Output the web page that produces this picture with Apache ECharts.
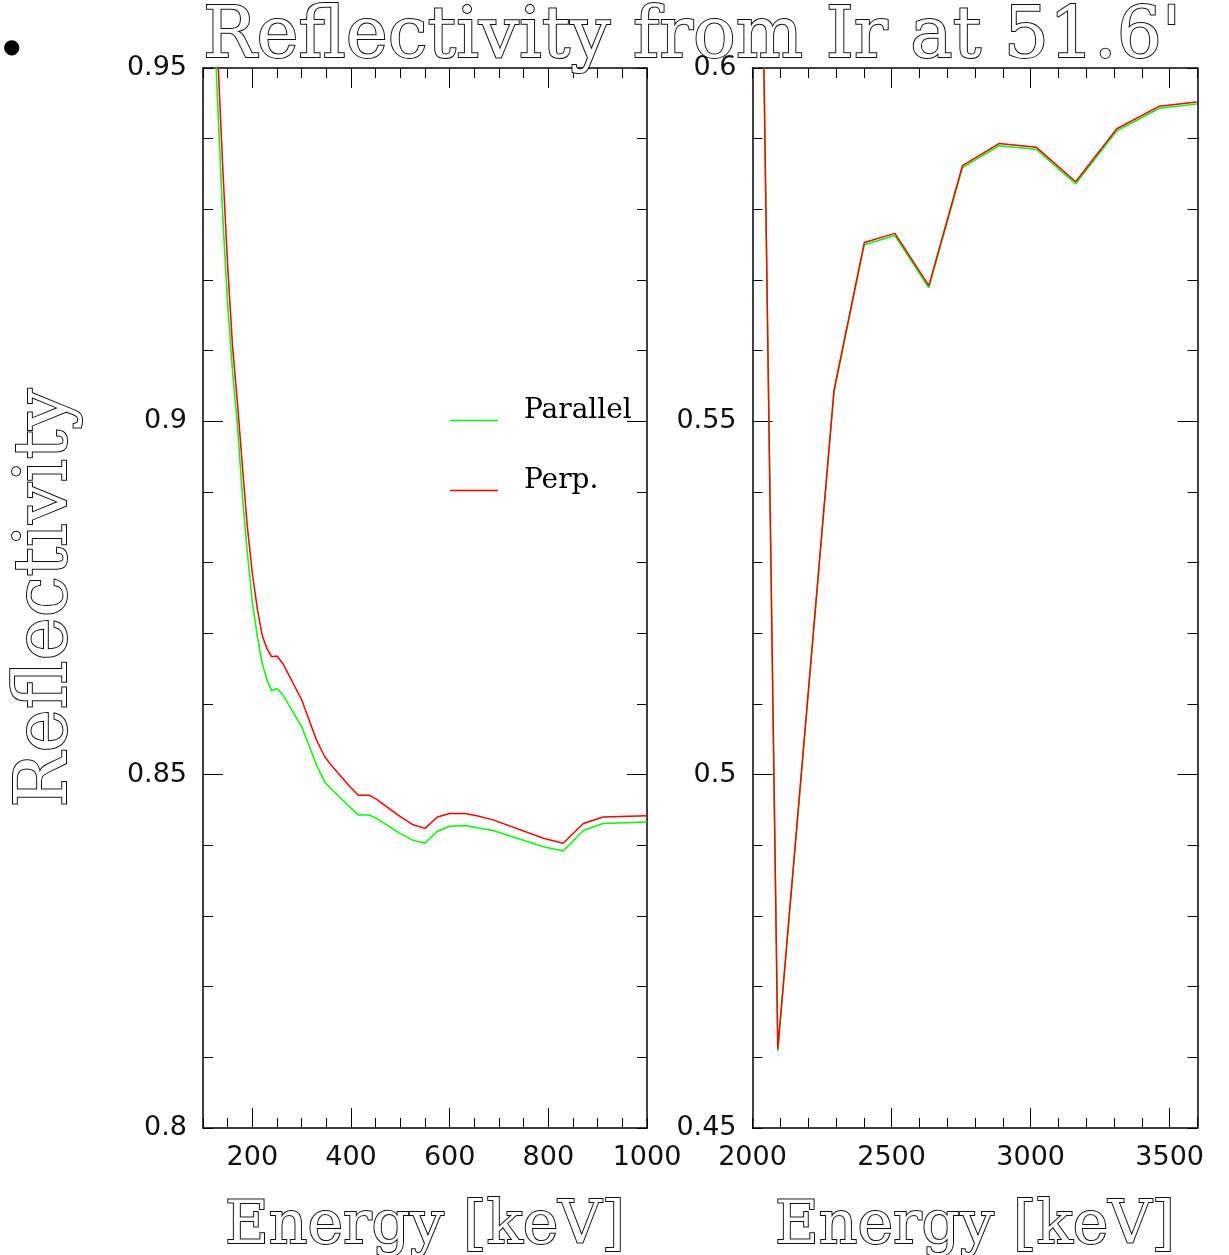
<!DOCTYPE html>
<html>
<head>
<meta charset="utf-8">
<script src="https://cdn.jsdelivr.net/npm/echarts@6.0.0/dist/echarts.min.js"></script>
<style>
html,body{margin:0;padding:0;background:#fff;overflow:hidden;}
#chart{width:1229px;height:1255px;}
</style>
</head>
<body>
<div id="chart"></div>
<script>
// ---------- data ----------
const titleText = "Reflectivity from Ir at 51.6'";
const seriesNames = ['Parallel', 'Perp.'];

// Left panel: 100 - 1000 keV
const leftEnergy   = [110, 120, 130, 140, 150, 160, 170, 180, 190, 200, 210, 220, 230, 239, 250, 262, 300, 330, 347, 364, 398, 415, 437, 452, 499, 526, 550, 575, 600, 631, 655, 688, 790, 830, 871, 911, 1000];
const leftParallel = [0.980, 0.961, 0.9445, 0.929, 0.9165, 0.907, 0.8993, 0.8893, 0.8813, 0.8745, 0.8696, 0.8658, 0.8633, 0.8619, 0.8622, 0.8613, 0.8568, 0.8514, 0.8489, 0.8477, 0.8454, 0.8443, 0.8443, 0.8438, 0.8417, 0.8407, 0.8403, 0.8420, 0.8427, 0.8428, 0.8425, 0.8421, 0.8398, 0.8392, 0.8421, 0.8431, 0.8433];
const leftPerp     = [0.990, 0.968, 0.9515, 0.936, 0.922, 0.9105, 0.9025, 0.8935, 0.8850, 0.8785, 0.8735, 0.8697, 0.8678, 0.8667, 0.8668, 0.8657, 0.8606, 0.8549, 0.8525, 0.8510, 0.8483, 0.8471, 0.8471, 0.8465, 0.8441, 0.8429, 0.8424, 0.8440, 0.8445, 0.8445, 0.8442, 0.8436, 0.8410, 0.8403, 0.8431, 0.8440, 0.8442];

// Right panel: 2000 - 3600 keV
const rightEnergy   = [2000, 2091, 2293, 2402, 2512, 2634, 2755, 2886, 3020, 3162, 3310, 3463, 3597];
const rightParallel = [0.714, 0.4609, 0.5541, 0.5750, 0.5763, 0.5689, 0.5859, 0.5890, 0.5885, 0.5836, 0.5911, 0.5943, 0.5949];
const rightPerp     = [0.714, 0.4612, 0.5544, 0.5753, 0.5766, 0.5692, 0.5862, 0.5893, 0.5888, 0.5839, 0.5914, 0.5946, 0.5952];

// axis ranges / ticks
const leftXRange  = [100, 1000];  const leftXMinor  = 50;  const leftXMajor  = [200, 400, 600, 800];  const leftXLabelStep = 200;
const rightXRange = [2000, 3600]; const rightXMinor = 100; const rightXMajor = [2500, 3000, 3500];    const rightXLabelStep = 500;
const leftYRange  = [0.8, 0.95];  const rightYRange = [0.45, 0.6]; const yMinor = 0.01;
const leftYMajor  = [0.85, 0.9];  const rightYMajor = [0.5, 0.55];

// ---------- chart ----------
const pairs = (xs, ys) => xs.map((x, i) => [x, ys[i]]);
const BLACK = '#000';
const tickFont = { fontFamily: 'DejaVu Sans', fontSize: 27, color: '#111' };
const outlineName = { fontFamily: 'DejaVu Serif', color: '#fff', textBorderColor: '#111', textBorderWidth: 2 };

function xAxes(grid, range, minor, major, labelStep) {
  const base = { type: 'value', gridIndex: grid, min: range[0], max: range[1], interval: minor, splitLine: { show: false } };
  return [
    Object.assign({}, base, {
      position: 'bottom',
      axisLine: { show: true, lineStyle: { color: BLACK, width: 1.5 } },
      axisTick: { show: true, inside: true, length: 10, lineStyle: { color: BLACK, width: 1 } },
      axisLabel: Object.assign({ margin: 16, showMinLabel: true, showMaxLabel: true,
        formatter: v => (Math.round(v) % labelStep === 0 && Math.round(v) !== 100) ? String(Math.round(v)) : '' }, tickFont),
      name: 'Energy [keV]', nameLocation: 'middle', nameGap: 69,
      nameTextStyle: Object.assign({ fontSize: 60 }, outlineName)
    }),
    Object.assign({}, base, {
      position: 'bottom', axisLine: { show: false }, axisLabel: { show: false },
      axisTick: { show: true, inside: true, length: 20, customValues: major, lineStyle: { color: BLACK, width: 1 } }
    }),
    Object.assign({}, base, {
      position: 'top', axisLabel: { show: false },
      axisLine: { show: true, lineStyle: { color: BLACK, width: 1.5 } },
      axisTick: { show: true, inside: true, length: 10, lineStyle: { color: BLACK, width: 1 } }
    }),
    Object.assign({}, base, {
      position: 'top', axisLine: { show: false }, axisLabel: { show: false },
      axisTick: { show: true, inside: true, length: 20, customValues: major, lineStyle: { color: BLACK, width: 1 } }
    })
  ];
}

function yAxes(grid, range, major, withName) {
  const base = { type: 'value', gridIndex: grid, min: range[0], max: range[1], interval: yMinor, splitLine: { show: false } };
  const main = Object.assign({}, base, {
    position: 'left',
    axisLine: { show: true, lineStyle: { color: BLACK, width: 1.5 } },
    axisTick: { show: true, inside: true, length: 10, lineStyle: { color: BLACK, width: 1 } },
    axisLabel: Object.assign({ margin: 16, showMinLabel: true, showMaxLabel: true,
      formatter: v => { const k = Math.round(v * 100); return k % 5 === 0 ? String(k / 100) : ''; } }, tickFont)
  });
  if (withName) {
    Object.assign(main, { name: 'Reflectivity', nameLocation: 'middle', nameRotate: 90, nameGap: 119,
      nameTextStyle: Object.assign({ fontSize: 73 }, outlineName) });
  }
  return [
    main,
    Object.assign({}, base, {
      position: 'left', axisLine: { show: false }, axisLabel: { show: false },
      axisTick: { show: true, inside: true, length: 20, customValues: major, lineStyle: { color: BLACK, width: 1 } }
    }),
    Object.assign({}, base, {
      position: 'right', axisLabel: { show: false },
      axisLine: { show: true, lineStyle: { color: BLACK, width: 1.5 } },
      axisTick: { show: true, inside: true, length: 10, lineStyle: { color: BLACK, width: 1 } }
    }),
    Object.assign({}, base, {
      position: 'right', axisLine: { show: false }, axisLabel: { show: false },
      axisTick: { show: true, inside: true, length: 20, customValues: major, lineStyle: { color: BLACK, width: 1 } }
    })
  ];
}

const lineSeries = (name, color, data, grid) => ({
  name: name, type: 'line', data: data, showSymbol: false, symbol: 'none',
  xAxisIndex: grid * 4, yAxisIndex: grid * 4, clip: true,
  lineStyle: { color: color, width: 1.5 }, itemStyle: { color: color },
  emphasis: { disabled: true }
});

const chart = echarts.init(document.getElementById('chart'), null, { renderer: 'canvas' });
chart.setOption({
  animation: false,
  backgroundColor: '#fff',
  title: {
    text: titleText, left: 203, top: 3, padding: 0,
    textStyle: Object.assign({ fontSize: 71, fontWeight: 'normal' }, outlineName)
  },
  graphic: [{ type: 'text', left: 3, top: 38, style: { text: '●', font: '20px DejaVu Sans', fill: '#000' } }],
  legend: {
    data: seriesNames.map(n => ({ name: n, icon: 'rect' })),
    orient: 'vertical', left: 450, top: 397, padding: 0,
    itemWidth: 48, itemHeight: 1.5, itemGap: 42,
    formatter: name => '{t|' + name + '}',
    textStyle: { fontFamily: 'DejaVu Serif', fontSize: 28, color: BLACK,
      rich: { t: { fontFamily: 'DejaVu Serif', fontSize: 28, color: BLACK, padding: [0, 0, 19, 21] } } },
    selectedMode: false
  },
  grid: [
    { left: 203, top: 68, width: 444, height: 1060, outerBoundsMode: 'none', containLabel: false },
    { left: 752.5, top: 68, width: 445, height: 1060, outerBoundsMode: 'none', containLabel: false }
  ],
  xAxis: [].concat(
    xAxes(0, leftXRange, leftXMinor, leftXMajor, leftXLabelStep),
    xAxes(1, rightXRange, rightXMinor, rightXMajor, rightXLabelStep)
  ),
  yAxis: [].concat(
    yAxes(0, leftYRange, leftYMajor, true),
    yAxes(1, rightYRange, rightYMajor, false)
  ),
  series: [
    lineSeries(seriesNames[0], '#00ff00', pairs(leftEnergy, leftParallel), 0),
    lineSeries(seriesNames[1], '#ff0000', pairs(leftEnergy, leftPerp), 0),
    lineSeries(seriesNames[0], '#00ff00', pairs(rightEnergy, rightParallel), 1),
    lineSeries(seriesNames[1], '#ff0000', pairs(rightEnergy, rightPerp), 1)
  ]
});
</script>
</body>
</html>
